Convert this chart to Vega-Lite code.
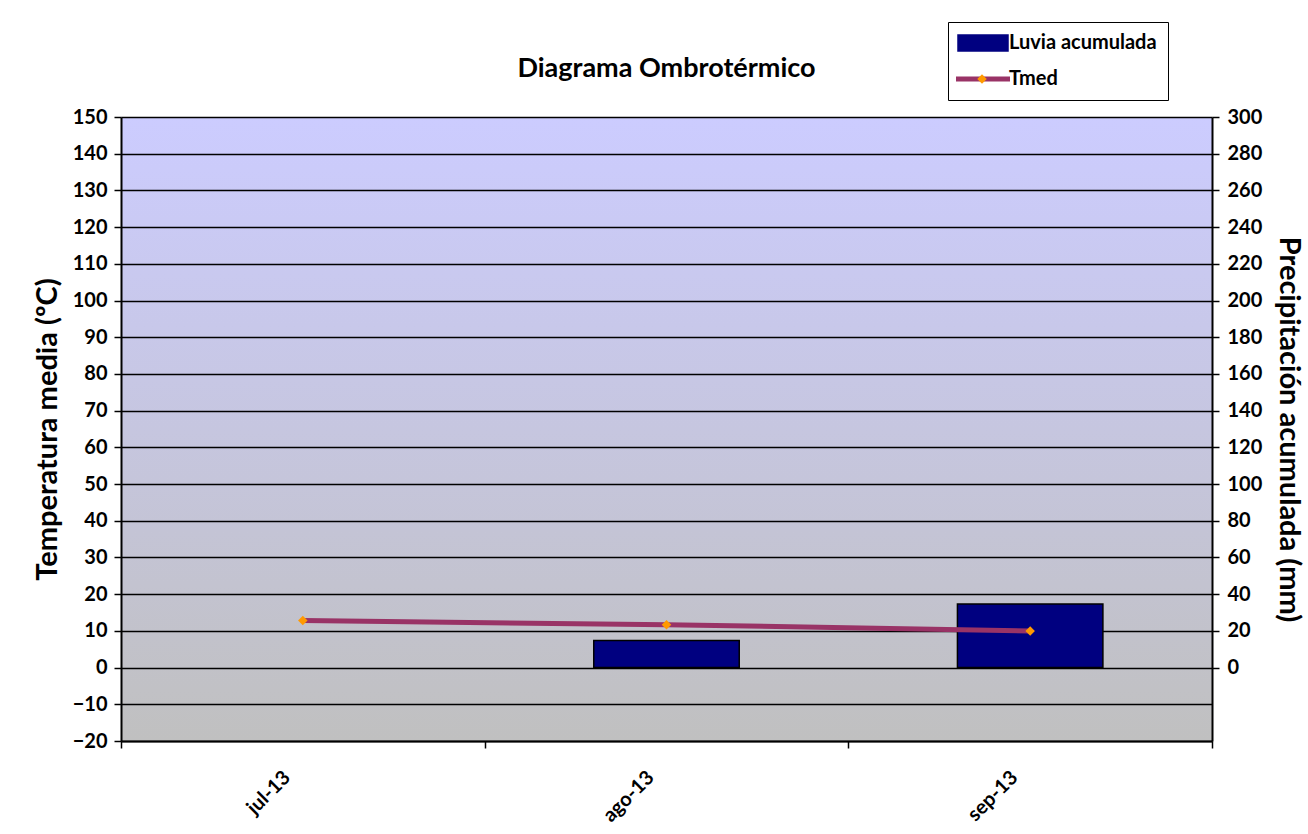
{
  "$schema": "https://vega.github.io/schema/vega-lite/v6.json",
  "autosize": "none",
  "width": 1091,
  "height": 624,
  "padding": {"left": 121, "top": 117, "right": 96, "bottom": 93},
  "background": "white",
  "title": {"text": "Diagrama Ombrotérmico", "fontSize": 27, "fontWeight": "bold", "font": "Lato", "color": "black", "anchor": "middle", "offset": 32, "dy": 93},
  "data": {"values": [
    {"mes": "jul-13", "Tmed": 12.8, "Lluvia": null},
    {"mes": "ago-13", "Tmed": 11.7, "Lluvia": 14.8},
    {"mes": "sep-13", "Tmed": 10.0, "Lluvia": 34.6}
  ]},
  "encoding": {
    "x": {"field": "mes", "type": "ordinal", "sort": null,
      "scale": {"type": "band", "domain": ["jul-13", "ago-13", "sep-13"], "paddingInner": 0, "paddingOuter": 0},
      "axis": {"title": null, "labelAngle": -45, "labelAlign": "right", "labelBaseline": "middle", "labelPadding": 26, "labelOffset": -16, "tickBand": "extent", "tickSize": 7, "grid": false, "labelFontSize": 20, "labelFontWeight": "bold", "domainWidth": 2}}
  },
  "layer": [
    {
      "mark": {"type": "bar", "width": {"band": 0.4}, "stroke": "black", "strokeWidth": 1.5},
      "encoding": {
        "y": {"field": "Lluvia", "type": "quantitative",
          "scale": {"domain": [-40, 300], "nice": false, "zero": false},
          "axis": {"orient": "right", "title": "Precipitación acumulada (mm)", "values": [0, 20, 40, 60, 80, 100, 120, 140, 160, 180, 200, 220, 240, 260, 280, 300], "grid": false, "tickSize": 7, "labelPadding": 8, "titlePadding": 12, "labelFontSize": 20, "labelFontWeight": "bold", "titleFontSize": 29, "titleFontWeight": "bold", "domainWidth": 2}},
        "color": {"datum": "Luvia acumulada", "type": "nominal",
          "scale": {"domain": ["Luvia acumulada", "Tmed"], "range": ["#000080", "#993366"]},
          "legend": {"title": null, "orient": "none", "legendX": 827, "legendY": -95, "padding": 11, "strokeColor": "black", "fillColor": "white", "symbolSize": 400, "symbolOffset": 14, "labelOffset": 16, "rowPadding": 15, "labelFontSize": 20, "labelFontWeight": "bold", "labelFont": "Lato", "labelColor": "black",
            "encode": {"symbols": {"update": {
              "shape": {"signal": "datum.value === 'Tmed' ? 'M-2.7,0H2.7' : 'M-2.5,-0.8H2.5V0.8H-2.5Z'"},
              "fill": {"signal": "datum.value === 'Tmed' ? 'transparent' : '#000080'"},
              "stroke": {"signal": "datum.value === 'Tmed' ? '#993366' : '#000000'"},
              "strokeWidth": {"signal": "datum.value === 'Tmed' ? 5 : 1.5"},
              "opacity": {"value": 1}
            }}}}}
      }
    },
    {
      "mark": {"type": "line", "strokeWidth": 5},
      "encoding": {
        "y": {"field": "Tmed", "type": "quantitative",
          "scale": {"domain": [-20, 150], "nice": false, "zero": false},
          "axis": {"orient": "left", "title": "Temperatura media (ºC)", "values": [-20, -10, 0, 10, 20, 30, 40, 50, 60, 70, 80, 90, 100, 110, 120, 130, 140, 150], "grid": true, "gridColor": "black", "gridWidth": 1.5, "gridOpacity": 1, "tickSize": 7, "labelPadding": 7, "titlePadding": 10, "labelFontSize": 20, "labelFontWeight": "bold", "titleFontSize": 29, "titleFontWeight": "bold", "domainWidth": 2}},
        "color": {"datum": "Tmed", "type": "nominal",
          "legend": {"title": null, "orient": "none", "legendX": 827, "legendY": -95, "padding": 11, "strokeColor": "black", "fillColor": "white", "symbolSize": 400, "symbolOffset": 14, "labelOffset": 16, "rowPadding": 15, "labelFontSize": 20, "labelFontWeight": "bold", "labelFont": "Lato", "labelColor": "black",
            "encode": {"symbols": {"update": {
              "shape": {"signal": "datum.value === 'Tmed' ? 'M-2.7,0H2.7' : 'M-2.5,-0.8H2.5V0.8H-2.5Z'"},
              "fill": {"signal": "datum.value === 'Tmed' ? 'transparent' : '#000080'"},
              "stroke": {"signal": "datum.value === 'Tmed' ? '#993366' : '#000000'"},
              "strokeWidth": {"signal": "datum.value === 'Tmed' ? 5 : 1.5"},
              "opacity": {"value": 1}
            }}}}}
      }
    },
    {
      "mark": {"type": "point", "filled": true, "color": "#ff9900", "size": 90, "opacity": 1},
      "encoding": {
        "y": {"field": "Tmed", "type": "quantitative", "scale": {"domain": [-20, 150], "nice": false, "zero": false}, "axis": null},
        "shape": {"datum": "Tmed", "type": "nominal", "scale": {"range": ["diamond"]},
          "legend": {"title": null, "orient": "none", "legendX": 856, "legendY": -43, "padding": 0, "symbolSize": 90, "symbolFillColor": "#ff9900", "symbolStrokeWidth": 0, "labelExpr": "''", "labelFontSize": 1}}
      }
    }
  ],
  "resolve": {"scale": {"y": "independent"}},
  "config": {
    "font": "Lato",
    "view": {"stroke": null, "fill": {"gradient": "linear", "x1": 0, "y1": 0, "x2": 0, "y2": 1, "stops": [{"offset": 0, "color": "#ccccff"}, {"offset": 1, "color": "#c0c0c0"}]}},
    "axis": {"labelColor": "black", "titleColor": "black", "domainColor": "black", "tickColor": "black", "tickWidth": 1.5, "labelFont": "Lato", "titleFont": "Lato"}
  }
}
